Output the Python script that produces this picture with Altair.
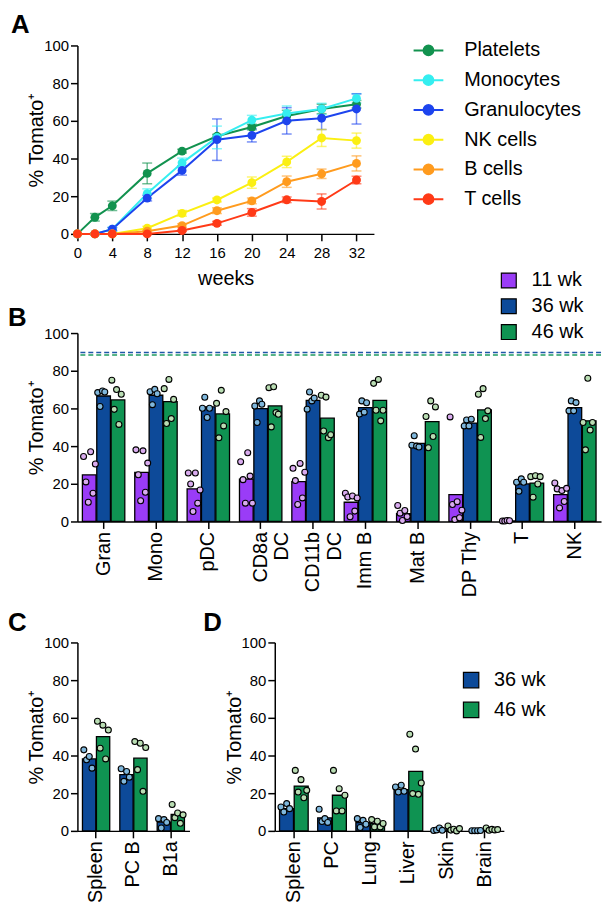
import altair as alt
import pandas as pd

FONT = "Liberation Sans"
YTITLE = "% Tomato\u207a"

# ---------------- Panel A data ----------------
weeks = [0, 2, 4, 8, 12, 16, 20, 24, 28, 32]
series_a = ["Platelets", "Monocytes", "Granulocytes", "NK cells", "B cells", "T cells"]
colors_a = ["#12924f", "#35eef0", "#1d44ee", "#fbef12", "#ff9b1e", "#ff3a17"]

platelets = [0, 8.8, 14.9, 32.1, 43.9, 51.8, 56.7, 62.6, 66.3, 68.8]
platelets_err = [0, 2.0, 2.5, 5.5, 1.0, 1.0, 1.5, 3.0, 2.5, 2.0]
monocytes = [0, 0, 2.5, 21.4, 37.7, 51.2, 60.4, 63.9, 66.3, 71.9]
monocytes_err = [0, 0.5, 1.0, 2.5, 2.5, 6.0, 2.5, 4.0, 3.0, 2.5]
granulocytes = [0, 0, 2.5, 19.0, 33.7, 50.0, 52.3, 60.0, 61.4, 66.3]
granulocytes_err = [0, 0.3, 0.8, 1.5, 2.5, 11.0, 3.5, 7.0, 6.0, 8.0]
nk_cells = [0, 0, 0, 3.0, 10.9, 18.0, 27.2, 38.2, 50.9, 49.5]
nk_cells_err = [0, 0, 0.3, 1.0, 1.5, 1.0, 3.0, 3.0, 4.5, 4.0]
b_cells = [0, 0, 0, 1.4, 4.4, 12.3, 17.5, 27.7, 31.9, 37.4]
b_cells_err = [0, 0, 0, 0.5, 1.0, 1.5, 1.5, 3.0, 2.5, 4.0]
t_cells = [0, 0, 0, 0, 1.8, 5.6, 11.4, 18.1, 17.2, 28.6]
t_cells_err = [0, 0, 0, 0.3, 0.5, 1.0, 2.0, 1.5, 4.0, 2.0]

# ---------------- Panel B data ----------------
cells_b = ["Gran", "Mono", "pDC", "CD8a\nDC", "CD11b\nDC", "Imm B", "Mat B", "DP Thy", "T", "NK"]
groups_b = ["11 wk", "36 wk", "46 wk"]
bar_colors = ["#9a3cf7", "#0d4a99", "#0f9352"]
dot_colors = ["#d9abef", "#7fb7dc", "#b9ddb3"]

b_11wk = [24.7, 26.1, 17.3, 22.5, 21.1, 10.2, 4.1, 14.3, 0.3, 14.3]
b_36wk = [66.6, 67.0, 60.8, 59.9, 64.3, 60.4, 41.4, 52.2, 19.9, 60.4]
b_46wk = [64.5, 63.6, 57.1, 61.3, 54.8, 64.3, 53.0, 59.2, 20.4, 53.4]

b_11wk_pts = [
    [34.5, 21.0, 10.2, 37.0, 15.0, 30.5],
    [38.0, 24.8, 11.0, 37.5, 15.5, 31.0],
    [25.7, 19.9, 5.3, 25.7, 9.7, 16.7],
    [31.7, 22.2, 9.7, 36.5, 24.1, 9.7],
    [28.2, 21.7, 9.0, 30.8, 12.5, 26.1],
    [15.0, 13.0, 2.5, 13.5, 5.5, 12.5],
    [8.5, 4.4, 0.5, 5.8, 2.6],
    [55.5, 9.0, 1.0, 10.5, 2.0, 6.0],
    [0.3, 0.2, 0.5, 0.4],
    [20.4, 17.3, 7.2, 16.4, 10.6, 17.6],
]
b_36wk_pts = [
    [68.4, 61.0, 69.3, 68.7],
    [68.9, 62.0, 70.1, 67.8],
    [60.1, 65.9, 55.2, 60.1],
    [61.3, 52.5, 64.0, 62.2],
    [59.6, 68.7, 64.0, 65.5],
    [57.0, 64.0, 58.0, 63.0],
    [40.5, 45.5, 40.0, 39.5],
    [50.7, 53.9, 50.7, 54.3],
    [20.8, 16.0, 22.6, 20.8],
    [58.7, 64.0, 58.7, 63.1],
]
b_46wk_pts = [
    [75.0, 59.5, 70.0, 51.5, 67.5],
    [70.5, 52.0, 75.4, 54.6, 64.8],
    [62.7, 44.4, 69.6, 50.7, 58.3],
    [71.0, 50.2, 71.5, 57.8, 56.9],
    [67.0, 48.0, 66.0, 44.5, 46.0],
    [73.3, 59.0, 75.4, 53.4, 59.0],
    [55.7, 39.1, 64.0, 45.1, 60.8],
    [67.5, 44.6, 70.5, 54.6, 58.7],
    [23.8, 12.9, 24.3, 19.9, 23.8],
    [52.5, 38.0, 76.0, 48.5, 52.5],
]
b_ref_groups = ["36 wk", "46 wk"]
b_ref_values = [89.7, 88.4]

# ---------------- Panel C data ----------------
cells_c = ["Spleen", "PC B", "B1a"]
groups_cd = ["36 wk", "46 wk"]
c_36wk = [38.2, 29.8, 4.6]
c_46wk = [50.0, 38.6, 8.7]
c_36wk_pts = [[43.0, 37.7, 39.5, 33.3], [33.0, 26.3, 31.5, 28.5], [6.5, 1.5, 6.0, 4.5]]
c_46wk_pts = [[58.2, 43.9, 56.1, 38.2, 53.5], [47.4, 32.5, 46.5, 21.0, 44.2], [14.0, 7.0, 9.5, 4.0, 8.5]]

# ---------------- Panel D data ----------------
cells_d = ["Spleen", "PC", "Lung", "Liver", "Skin", "Brain"]
d_36wk = [11.8, 6.9, 4.4, 21.9, 0.5, 0.1]
d_46wk = [23.8, 18.9, 3.9, 31.6, 1.0, 0.8]
d_36wk_pts = [[12.7, 10.0, 14.5, 11.8], [11.5, 5.0, 6.5, 4.5], [6.5, 1.8, 5.6, 3.5],
              [23.3, 20.6, 24.2, 21.0], [0.2, 0.5, 1.5, 0.3], [0.1, 0.1, 0.1, 0.2]]
d_46wk_pts = [[32.1, 20.6, 27.2, 17.6, 21.5], [32.1, 10.6, 22.4, 10.6, 18.9], [6.0, 2.1, 5.1, 2.1, 3.9],
              [51.3, 19.8, 43.4, 19.4, 25.4], [2.6, 0.4, 0.9, 0.0, 1.2], [1.5, 0.3, 0.8, 0.5, 0.7]]


def y_enc(field="pct"):
    return alt.Y(f"{field}:Q", scale=alt.Scale(domain=[0, 100], nice=False),
                 axis=alt.Axis(title=YTITLE, values=[0, 20, 40, 60, 80, 100], tickSize=7,
                               labelPadding=2, titlePadding=1, titleBaseline="alphabetic",
                               labelFlush=False, labelOverlap=False))


def letter(t, dx, offset):
    return alt.TitleParams(t, anchor="start", frame="group", dx=dx, offset=offset,
                           fontSize=26, fontWeight="bold", baseline="alphabetic", font=FONT)


# ---------------- Panel A chart ----------------
rows_a = []
for name, vals, errs in zip(series_a,
                            [platelets, monocytes, granulocytes, nk_cells, b_cells, t_cells],
                            [platelets_err, monocytes_err, granulocytes_err, nk_cells_err, b_cells_err, t_cells_err]):
    for w, v, e in zip(weeks, vals, errs):
        rows_a.append({"series": name, "week": w, "pct": v, "lo": v - e, "hi": v + e})
df_a = pd.DataFrame(rows_a)

legend_a = alt.Legend(title=None, orient="none", legendX=338, legendY=-11,
                      symbolType="M-1,0L1,0M0.33,0A0.33,0.33,0,1,1,-0.33,0A0.33,0.33,0,1,1,0.33,0Z",
                      symbolSize=900, symbolStrokeWidth=2, symbolOpacity=1, labelFontSize=20,
                      labelOffset=20, rowPadding=4, padding=0)
color_a = alt.Color("series:N", sort=series_a, scale=alt.Scale(domain=series_a, range=colors_a), legend=legend_a)
x_a = alt.X("week:Q", scale=alt.Scale(domain=[0, 34], nice=False),
            axis=alt.Axis(values=[0, 4, 8, 12, 16, 20, 24, 28, 32], title="weeks", tickSize=7,
                          labelPadding=5, titlePadding=8, labelFlush=False, labelOverlap=False))

base_a = alt.Chart(df_a)
err_rule = base_a.transform_filter("datum.hi > datum.lo").mark_rule(strokeWidth=1.5, opacity=0.6).encode(
    x=x_a, y=y_enc("lo"), y2="hi:Q", color=color_a)
err_lo = base_a.transform_filter("datum.hi > datum.lo").mark_tick(orient="horizontal", size=10, thickness=1.5, opacity=0.6).encode(
    x=x_a, y=y_enc("lo"), color=color_a)
err_hi = base_a.transform_filter("datum.hi > datum.lo").mark_tick(orient="horizontal", size=10, thickness=1.5, opacity=0.6).encode(
    x=x_a, y=y_enc("hi"), color=color_a)
lines_a = base_a.mark_line(strokeWidth=2).encode(x=x_a, y=y_enc(), color=color_a, detail="series:N")
pts_a = base_a.mark_point(filled=True, size=80, opacity=1).encode(x=x_a, y=y_enc(), color=color_a)

chart_a = alt.layer(err_rule, err_lo, err_hi, lines_a, pts_a).properties(
    width=299, height=190, title=letter("A", -67, -24))


# ---------------- helper for bar + dot panels ----------------
def bar_panel(cells, groups, bars, pts, cols, dcols, width, pad_in, nslots, legend, title, ref=None):
    bar_rows, dot_rows = [], []
    for gi, g in enumerate(groups):
        for ci, c in enumerate(cells):
            bar_rows.append({"cell": c, "grp": g, "pct": bars[gi][ci]})
            for r, v in enumerate(pts[gi][ci]):
                dot_rows.append({"cell": c, "grp": g, "slot": f"{g}#{r}", "pct": v})
    slots = [f"{g}#{r}" for g in groups for r in range(nslots)]
    df_bar = pd.DataFrame(bar_rows)
    df_dot = pd.DataFrame(dot_rows)

    x = alt.X("cell:N", sort=cells, scale=alt.Scale(domain=cells, paddingInner=pad_in, paddingOuter=pad_in / 2),
              axis=alt.Axis(title=None, labelAngle=270, labelAlign="right", labelBaseline="middle",
                            labelExpr="split(datum.label, '\\n')", labelFontSize=20, labelLineHeight=22,
                            tickSize=7, labelPadding=3, labelOverlap=False))
    bars_l = alt.Chart(df_bar).mark_bar(stroke="black", strokeWidth=1.3).encode(
        x=x,
        xOffset=alt.XOffset("grp:N", sort=groups, scale=alt.Scale(domain=groups, paddingInner=0.05)),
        y=y_enc(),
        color=alt.Color("grp:N", sort=groups, scale=alt.Scale(domain=groups, range=cols), legend=legend),
    )
    dots_l = alt.Chart(df_dot).mark_circle(size=36, stroke="black", strokeWidth=1.1, opacity=1).encode(
        x=x,
        xOffset=alt.XOffset("slot:N", scale=alt.Scale(domain=slots)),
        y=y_enc(),
        fill=alt.Fill("grp:N", scale=alt.Scale(domain=groups, range=dcols), legend=None),
    )
    layers = []
    if ref is not None:
        df_ref = pd.DataFrame({"line": ref[0], "pct": ref[1]})
        rules = alt.Chart(df_ref).mark_rule(strokeDash=[5, 3], strokeWidth=1.5).encode(
            y=y_enc(),
            stroke=alt.Stroke("line:N", scale=alt.Scale(domain=ref[0], range=["#1f56a8", "#1f9c62"]), legend=None),
        )
        layers.append(rules)
    layers += [bars_l, dots_l]
    return alt.layer(*layers).resolve_scale(xOffset="independent").properties(
        width=width, height=190, title=title)


legend_b = alt.Legend(title=None, orient="none", legendX=425, legendY=-63, symbolType="square",
                      symbolSize=225, symbolStrokeColor="black", symbolStrokeWidth=1.2,
                      symbolOpacity=1, labelFontSize=20, labelOffset=13, rowPadding=6, padding=0)
chart_b = bar_panel(cells_b, groups_b, [b_11wk, b_36wk, b_46wk], [b_11wk_pts, b_36wk_pts, b_46wk_pts],
                    bar_colors, dot_colors, 528, 0.19, 6, legend_b, letter("B", -70, -82),
                    ref=(b_ref_groups, b_ref_values))

chart_c = bar_panel(cells_c, groups_cd, [c_36wk, c_46wk], [c_36wk_pts, c_46wk_pts],
                    bar_colors[1:], dot_colors[1:], 113, 0.27, 5, None, letter("C", -70, -21))

legend_d = alt.Legend(title=None, orient="none", legendX=188, legendY=28, symbolType="square",
                      symbolSize=240, symbolStrokeColor="black", symbolStrokeWidth=1.2,
                      symbolOpacity=1, labelFontSize=20, labelOffset=13, rowPadding=8, padding=0)
chart_d = bar_panel(cells_d, groups_cd, [d_36wk, d_46wk], [d_36wk_pts, d_46wk_pts],
                    bar_colors[1:], dot_colors[1:], 231, 0.25, 5, legend_d, letter("D", -72, -21))

ind = dict(color="independent", fill="independent", stroke="independent", x="independent",
           y="independent", xOffset="independent")

row3 = alt.hconcat(chart_c, chart_d, spacing=86, bounds="flush").resolve_scale(**ind)
lower = alt.vconcat(chart_b, row3, spacing=122, bounds="flush").resolve_scale(**ind)
chart = alt.vconcat(chart_a, lower, spacing=100, bounds="flush").resolve_scale(**ind).properties(
    padding={"left": 0, "top": 0, "right": 2, "bottom": 2}
).configure_axis(
    labelFont=FONT, titleFont=FONT, labelFontSize=15, titleFontSize=20, titleFontWeight="normal",
    labelColor="black", titleColor="black", domainColor="black", tickColor="black",
    domainWidth=1.5, tickWidth=1.5, grid=False
).configure_legend(
    labelFont=FONT, labelColor="black"
).configure_view(strokeWidth=0)

chart.save("out.html", embed_options={"renderer": "svg", "actions": False})
